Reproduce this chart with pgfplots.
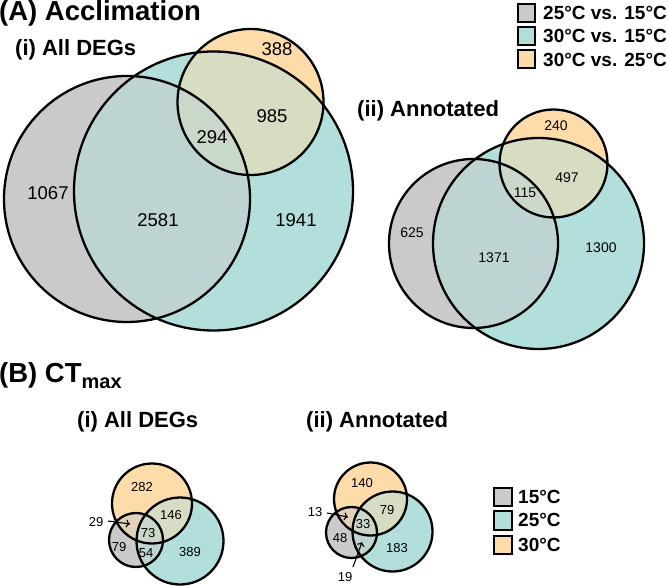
\documentclass[border=0pt]{standalone}
\usepackage{pgfplots}
\pgfplotsset{compat=1.18}
\usepackage{pgfplotstable}
\usepackage{fontspec}
\setmainfont{Liberation Sans}
\usetikzlibrary{arrows.meta}
\definecolor{greyc}{RGB}{202,202,202}
\definecolor{tealc}{RGB}{178,223,219}
\definecolor{orangec}{RGB}{253,220,170}

% circles: centre x, centre y (pixels from top), radius
\pgfplotstableread{
x y r
213.5 191 139.5
538.5 243.5 105.5
180 541 43.5
392.5 531.5 40
}\tealtab
\pgfplotstableread{
x y r
127 199 123
473.5 243.5 84.5
136 540 27
351.5 532.5 25.5
}\greytab
\pgfplotstableread{
x y r
250.5 102 73
553.5 163.5 54
152 503.5 40
370.5 499 36.5
}\orangetab

% region counts
\pgfplotstableread{
x y label
277 49 388
272 116 985
212 137 294
48 193 1067
158 220 2581
296 220 1941
}\labAi
\pgfplotstableread{
x y label
556 126 240
567 178 497
525 193 115
412 233 625
494 258 1371
601 248 1300
}\labAii
\pgfplotstableread{
x y label
142 487 282
171 515 146
148 533 73
119 547 79
146 553 54
190 552 389
96 522 29
362 483 140
387 510 79
363 524 33
340 538 48
397 548 183
315 512 13
345 577 19
}\labB

\pgfplotsset{
  circ/.style={scatter, only marks, mark=#1, point meta=\thisrow{r},
    visualization depends on={\thisrow{r} \as \rad},
    scatter/@pre marker code/.code={\scope[mark size=\rad]},
    scatter/@post marker code/.code={\endscope}},
  lab/.style={draw=none, mark=none, nodes near coords, point meta=explicit symbolic,
    nodes near coords align=center,
    every node near coord/.append style={font=#1, inner sep=0pt, anchor=center, text=black}},
}

\begin{document}
\begin{tikzpicture}
\begin{axis}[at={(0,0)}, anchor=south west, scale only axis,
  width=668pt, height=586pt, xmin=0, xmax=668, ymin=0, ymax=586,
  y dir=reverse, hide axis, clip=false, set layers=standard]
% opaque fills
\addplot[circ=*, mark options={draw=none, fill=tealc}] table {\tealtab};
\addplot[circ=*, mark options={draw=none, fill=greyc}] table {\greytab};
\addplot[circ=*, mark options={draw=none, fill=orangec}] table {\orangetab};
% blending passes
\addplot[circ=*, mark options={draw=none, fill=greyc, fill opacity=0.5}] table {\greytab};
\addplot[circ=*, mark options={draw=none, fill=tealc, fill opacity=0.5}] table {\tealtab};
% outlines
\addplot[circ=o, mark options={draw=black, line width=2.3pt}] table {\tealtab};
\addplot[circ=o, mark options={draw=black, line width=2.3pt}] table {\greytab};
\addplot[circ=o, mark options={draw=black, line width=2.3pt}] table {\orangetab};
% arrows
\addplot[on layer=axis foreground, black, line width=1.1pt, -{To[length=4pt,width=8pt]}] coordinates {(108,521) (130,524)};
\addplot[on layer=axis foreground, black, line width=1.1pt, -{To[length=4pt,width=8pt]}] coordinates {(327,513) (348,517)};
\addplot[on layer=axis foreground, black, line width=1.1pt, -{To[length=4pt,width=8pt]}] coordinates {(353,567) (362,542)};
% numbers
\addplot[lab={\fontsize{18.5}{20}\selectfont}] table[meta=label] {\labAi};
\addplot[lab={\fontsize{14}{16}\selectfont}] table[meta=label] {\labAii};
\addplot[lab={\fontsize{13}{15}\selectfont}] table[meta=label] {\labB};
% titles
\node[anchor=base west, inner sep=0pt, font=\bfseries\fontsize{27.5}{30}\selectfont] at (axis cs:-1,21) {(A) Acclimation};
\node[anchor=base west, inner sep=0pt, font=\bfseries\fontsize{22}{24}\selectfont] at (axis cs:15,56) {(i) All DEGs};
\node[anchor=base west, inner sep=0pt, font=\bfseries\fontsize{22}{24}\selectfont] at (axis cs:357,116.5) {(ii) Annotated};
\node[anchor=base west, inner sep=0pt, font=\bfseries\fontsize{27.5}{30}\selectfont] at (axis cs:-1,383) {(B) CT\raisebox{-5.5pt}{\fontsize{20}{22}\selectfont max}};
\node[anchor=base west, inner sep=0pt, font=\bfseries\fontsize{22}{24}\selectfont] at (axis cs:77,427.5) {(i) All DEGs};
\node[anchor=base west, inner sep=0pt, font=\bfseries\fontsize{22}{24}\selectfont] at (axis cs:306,427.5) {(ii) Annotated};
% legend A
\draw[fill=greyc, line width=2pt] (axis cs:518,4) rectangle (axis cs:535,22);
\draw[fill=tealc, line width=2pt] (axis cs:518,27) rectangle (axis cs:535,45.5);
\draw[fill=orangec, line width=2pt] (axis cs:518,50) rectangle (axis cs:535,68.5);
\node[anchor=west, inner sep=0pt, font=\bfseries\fontsize{19}{21}\selectfont] at (axis cs:543,12.5) {25°C vs. 15°C};
\node[anchor=west, inner sep=0pt, font=\bfseries\fontsize{19}{21}\selectfont] at (axis cs:543,36) {30°C vs. 15°C};
\node[anchor=west, inner sep=0pt, font=\bfseries\fontsize{19}{21}\selectfont] at (axis cs:543,59.5) {30°C vs. 25°C};
% legend B
\draw[fill=greyc, line width=2pt] (axis cs:494,487.5) rectangle (axis cs:512,506);
\draw[fill=tealc, line width=2pt] (axis cs:494,511) rectangle (axis cs:512,529.5);
\draw[fill=orangec, line width=2pt] (axis cs:494,535.5) rectangle (axis cs:512,554);
\node[anchor=west, inner sep=0pt, font=\bfseries\fontsize{19}{21}\selectfont] at (axis cs:518,497) {15°C};
\node[anchor=west, inner sep=0pt, font=\bfseries\fontsize{19}{21}\selectfont] at (axis cs:518,520) {25°C};
\node[anchor=west, inner sep=0pt, font=\bfseries\fontsize{19}{21}\selectfont] at (axis cs:518,545) {30°C};
\end{axis}
\pgfresetboundingbox
\useasboundingbox (0,0) rectangle (668pt,586pt);
\end{tikzpicture}
\end{document}
